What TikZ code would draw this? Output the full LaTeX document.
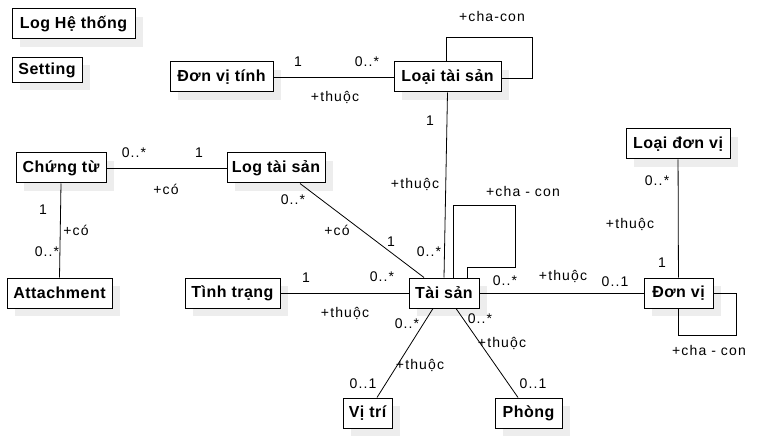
\documentclass[tikz,border=0pt]{standalone}
\usepackage{fontspec}
\setmainfont{Liberation Sans}
\newfontfamily\clsfont[LetterSpace=3]{Liberation Sans}
\newfontfamily\lblfont[LetterSpace=8]{Liberation Sans}
\usetikzlibrary{positioning, shadows}

\tikzset{
    cls/.style={draw, line width=1pt, fill=white, inner sep=0pt, minimum height=30pt,
        font=\clsfont\bfseries\fontsize{16pt}{18pt}\selectfont,
        drop shadow={shadow xshift=8pt, shadow yshift=-8pt, fill=black!7, opacity=1}},
    lbl/.style={inner sep=0pt, font=\lblfont\fontsize{14pt}{16pt}\selectfont},
    assoc/.style={draw, line width=0.8pt}
}

\begin{document}
\begin{tikzpicture}[x=1pt, y=-1pt]
            \useasboundingbox (0,0) rectangle (757,438);
            % cac lop
            \node[cls, minimum width=123pt] (loght) at (73.5,24) {Log Hệ thống};
            \node[cls, minimum width=70pt, minimum height=25pt] (setting) at (47,70) {Setting};
            \node[cls, minimum width=103pt] (dvt) at (221.5,77) {Đơn vị tính};
            \node[cls, minimum width=107pt] (lts) at (447.5,77) {Loại tài sản};
            \node[cls, minimum width=90pt] (chungtu) at (61,168) {Chứng từ};
            \node[cls, minimum width=98pt] (logts) at (276,168) {Log tài sản};
            \node[cls, minimum width=105pt] (attach) at (59.5,293) {Attachment};
            \node[cls, minimum width=95pt] (tinhtrang) at (232.5,293) {Tình trạng};
            \node[cls, minimum width=70pt] (taisan) at (444,293) {Tài sản};
            \node[cls, minimum width=69pt] (donvi) at (678.5,293) {Đơn vị};
            \node[cls, minimum width=104pt] (loaidv) at (678,144) {Loại đơn vị};
            \node[cls, minimum width=49pt] (vitri) at (367.5,413) {Vị trí};
            \node[cls, minimum width=67pt] (phong) at (528.5,413) {Phòng};

            % lien ket
            \draw[assoc] (dvt) -- (lts);
            \draw[assoc] (lts.south) -- (taisan.north);
            \draw[assoc] ([xshift=-1.5pt]lts.north) -- ++(0,-24) -- ++(86,0) -- ++(0,41) -- ++(-31,0);
            \draw[assoc] ([xshift=9pt]taisan.north) -- ++(0,-72) -- ++(62,0) -- ++(0,62) -- ++(-48,0) -- ++(0,10);
            \draw[assoc] (donvi.south) -- ++(0,27) -- ++(58,0) |- (donvi.east);
            \draw[assoc] (chungtu) -- (logts);
            \draw[assoc] (chungtu.south) -- (attach.north);
            \draw[assoc] ([xshift=24pt]logts.south) -- ([xshift=-20pt]taisan.north);
            \draw[assoc] (tinhtrang) -- (taisan);
            \draw[assoc] (taisan) -- (donvi);
            \draw[assoc] (loaidv) -- (donvi);
            \draw[assoc] ([xshift=-11pt]taisan.south) -- ([xshift=9.5pt]vitri.north);
            \draw[assoc] ([xshift=12pt]taisan.south) -- ([xshift=-10.5pt]phong.north);

            % nhan
            \node[lbl] (m1) at (298,62) {1};
            \node[lbl] (m2) at (367,62) {0..*};
            \node[lbl] (r1) at (335,97) {+thuộc};
            \node[lbl] (r2) at (492,16) {+cha-con};
            \node[lbl] (m3) at (430,121) {1};
            \node[lbl] (r3) at (415,184) {+thuộc};
            \node[lbl] (m4) at (429,252) {0..*};
            \node[lbl] (r4) at (523,191) {+cha - con};
            \node[lbl] (m5) at (134,153) {0..*};
            \node[lbl] (m6) at (199,153) {1};
            \node[lbl] (r5) at (166,189) {+có};
            \node[lbl] (m7) at (43,210) {1};
            \node[lbl] (r6) at (76,230) {+có};
            \node[lbl] (m8) at (47,252) {0..*};
            \node[lbl] (m9) at (293,200) {0..*};
            \node[lbl] (r7) at (337,230) {+có};
            \node[lbl] (m10) at (391,242) {1};
            \node[lbl] (m11) at (306,278) {1};
            \node[lbl] (m12) at (382,277) {0..*};
            \node[lbl] (r8) at (345,313) {+thuộc};
            \node[lbl] (m13) at (505,281) {0..*};
            \node[lbl] (r9) at (563,276) {+thuộc};
            \node[lbl] (m14) at (615,282) {0..1};
            \node[lbl] (m15) at (657,181) {0..*};
            \node[lbl] (r10) at (630,224) {+thuộc};
            \node[lbl] (m16) at (662,263) {1};
            \node[lbl] (r11) at (709,350) {+cha - con};
            \node[lbl] (m17) at (407,324) {0..*};
            \node[lbl] (r12) at (420,365) {+thuộc};
            \node[lbl] (m18) at (363,384) {0..1};
            \node[lbl] (m19) at (480,319) {0..*};
            \node[lbl] (r13) at (502,343) {+thuộc};
            \node[lbl] (m20) at (533,384) {0..1};
\end{tikzpicture}
\end{document}
